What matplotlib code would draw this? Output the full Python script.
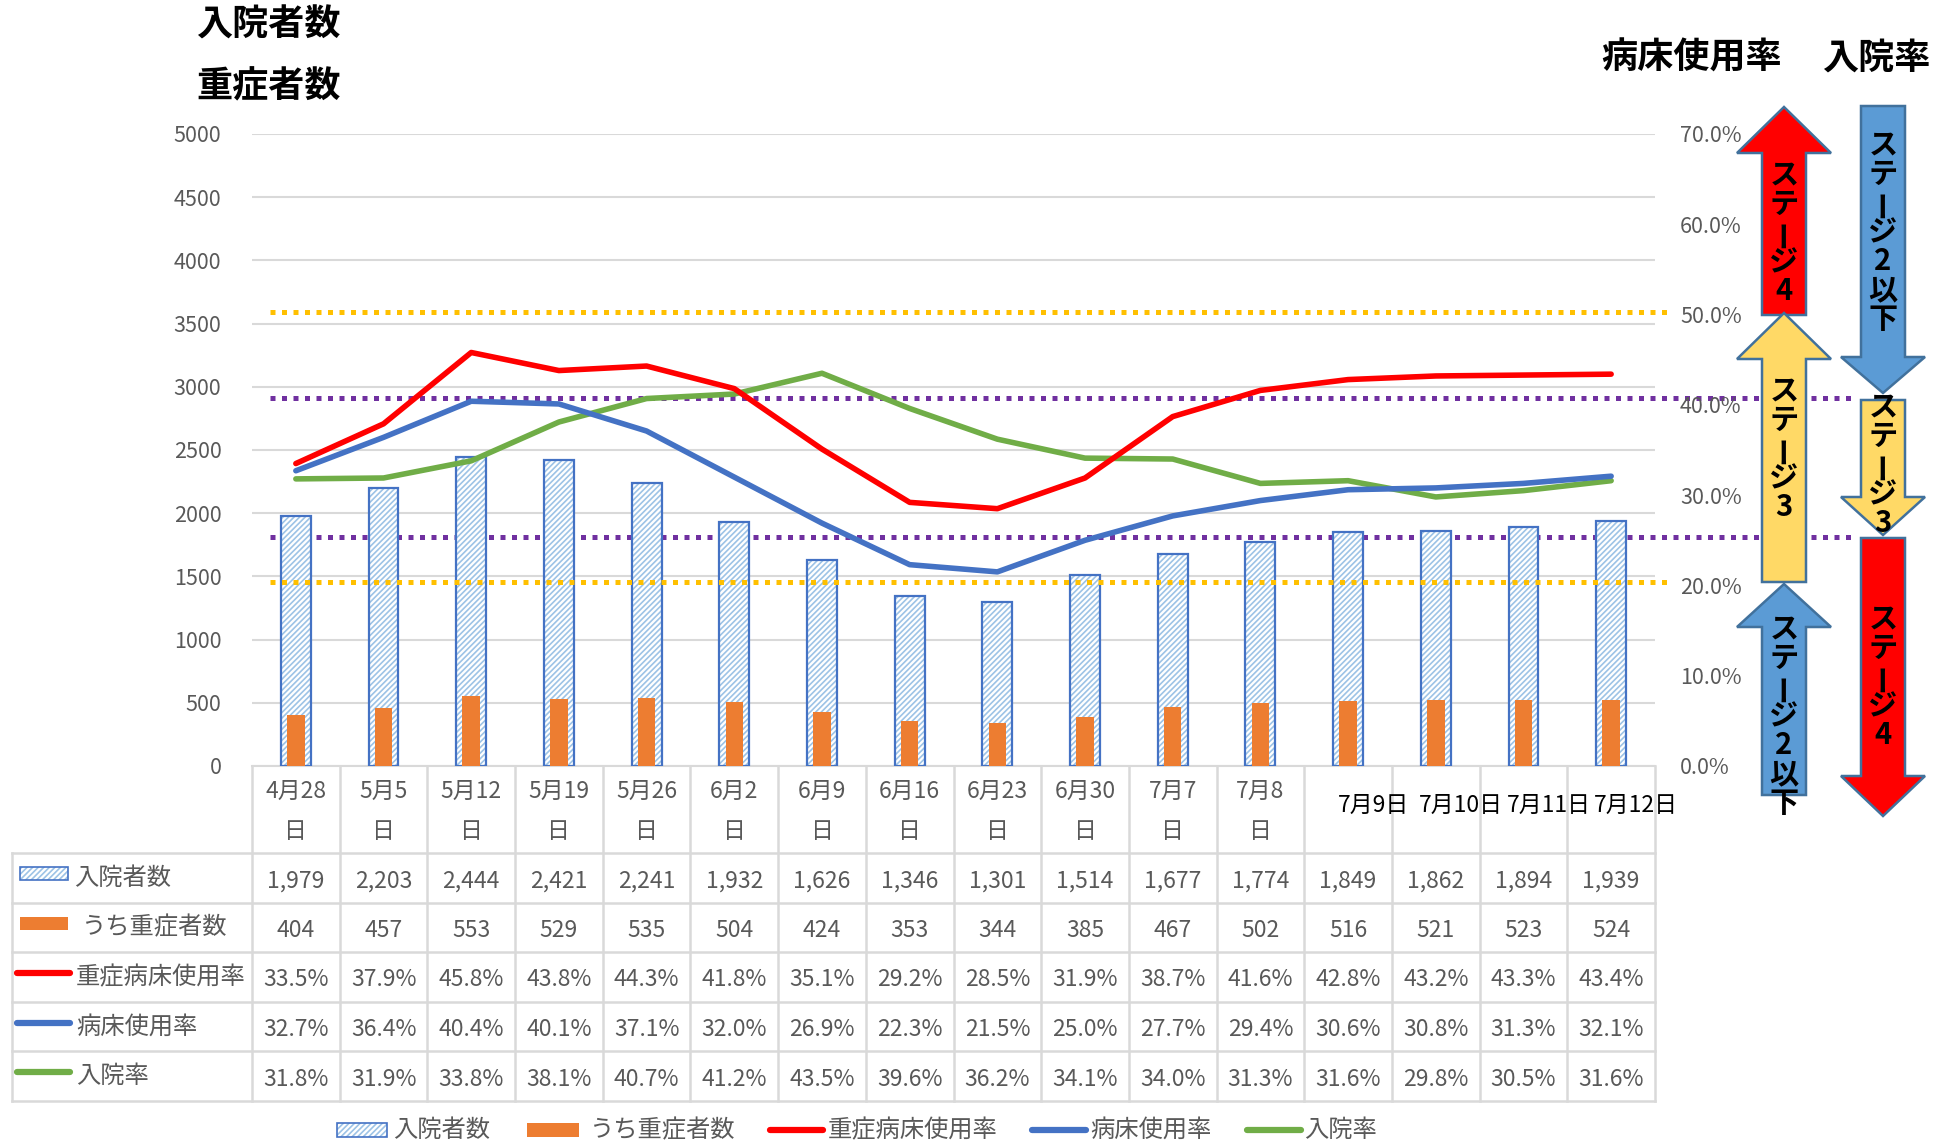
import matplotlib
matplotlib.use("Agg")
import matplotlib.pyplot as plt
from matplotlib.patches import Polygon, Rectangle
from matplotlib.lines import Line2D

plt.rcParams["font.family"] = ["Noto Sans CJK JP", "DejaVu Sans"]
plt.rcParams["hatch.linewidth"] = 1.2

# ---- data ----
dates = ["4月28日", "5月5日", "5月12日", "5月19日", "5月26日", "6月2日", "6月9日",
         "6月16日", "6月23日", "6月30日", "7月7日", "7月8日", "7月9日", "7月10日",
         "7月11日", "7月12日"]
inpatients = [1979, 2203, 2444, 2421, 2241, 1932, 1626, 1346, 1301, 1514, 1677, 1774,
              1849, 1862, 1894, 1939]
severe = [404, 457, 553, 529, 535, 504, 424, 353, 344, 385, 467, 502, 516, 521, 523, 524]
severe_bed_rate = [33.5, 37.9, 45.8, 43.8, 44.3, 41.8, 35.1, 29.2, 28.5, 31.9, 38.7, 41.6,
                   42.8, 43.2, 43.3, 43.4]
bed_rate = [32.7, 36.4, 40.4, 40.1, 37.1, 32.0, 26.9, 22.3, 21.5, 25.0, 27.7, 29.4,
            30.6, 30.8, 31.3, 32.1]
hosp_rate = [31.8, 31.9, 33.8, 38.1, 40.7, 41.2, 43.5, 39.6, 36.2, 34.1, 34.0, 31.3,
             31.6, 29.8, 30.5, 31.6]
orange_levels = [50.3, 20.4]
purple_levels = [40.8, 25.4]

GRAY = "#595959"
GRID = "#D9D9D9"
BLUE = "#4472C4"
HATCH = "#9DC3E6"
ORANGE = "#ED7D31"
RED = "#FF0000"
GREEN = "#70AD47"

W, H = 1944, 1142
fig = plt.figure(figsize=(W / 100, H / 100), dpi=100)

PL, PR, PT, PB = 252, 1655, 134, 766
ax = fig.add_axes([PL / W, 1 - PB / H, (PR - PL) / W, (PB - PT) / H])
ax2 = ax.twinx()
n = len(dates)
x = list(range(n))

ax.set_xlim(-0.5, n - 0.5)
ax.set_ylim(0, 5000)
ax.set_yticks(range(0, 5001, 500))
ax.grid(axis="y", color=GRID, linewidth=1.5)
ax.set_axisbelow(True)
ax.set_xticks([])
for s in ["top", "right", "left"]:
    ax.spines[s].set_visible(False)
    ax2.spines[s].set_visible(False)
ax.spines["bottom"].set_color(GRID)
ax.spines["bottom"].set_linewidth(1.5)
ax2.spines["bottom"].set_visible(False)
ax.tick_params(axis="y", length=0, labelsize=15.5, labelcolor=GRAY, pad=22)

# purple stage lines sit behind the bars
for lv in purple_levels:
    ax.plot([-0.3, 17.8], [lv / 70 * 5000] * 2, color="#7030A0", linewidth=3.6,
            linestyle=(0, (1, 1.3)), dash_capstyle="butt", clip_on=False, zorder=1)

ax.bar(x, inpatients, width=0.34, facecolor="white", edgecolor=HATCH, hatch="//////",
       linewidth=0, zorder=2)
ax.bar(x, inpatients, width=0.34, fill=False, edgecolor=BLUE, linewidth=1.6, zorder=3)
ax.bar(x, severe, width=0.2, color=ORANGE, zorder=4)

ax2.set_ylim(0, 70)
ax2.set_yticks(range(0, 71, 10))
ax2.set_yticklabels([f"{v:.1f}%" for v in range(0, 71, 10)])
ax2.tick_params(axis="y", length=0, labelsize=15.5, labelcolor=GRAY, pad=18)
for lv in orange_levels:
    ax2.plot([-0.3, 15.7], [lv, lv], color="#FFC000", linewidth=3.6,
             linestyle=(0, (1, 1.3)), dash_capstyle="butt", clip_on=False, zorder=1)
ax2.plot(x, hosp_rate, color=GREEN, linewidth=4, solid_capstyle="round", zorder=3)
ax2.plot(x, bed_rate, color=BLUE, linewidth=4, solid_capstyle="round", zorder=4)
ax2.plot(x, severe_bed_rate, color=RED, linewidth=4, solid_capstyle="round", zorder=5)

# ---- overlay in pixel coordinates: table, legend, titles, arrows ----
ov = fig.add_axes([0, 0, 1, 1])
ov.set_xlim(0, W)
ov.set_ylim(H, 0)
ov.axis("off")

col_w = (PR - PL) / n
rows_y = [853, 903, 952, 1002, 1051, 1101]
TL = 12
kw = dict(color=GRID, linewidth=1.8)
for y in rows_y:
    ov.add_line(Line2D([TL, PR], [y, y], **kw))
ov.add_line(Line2D([TL, TL], [rows_y[0], rows_y[-1]], **kw))
for i in range(n + 1):
    xx = PL + i * col_w
    ov.add_line(Line2D([xx, xx], [PB, rows_y[-1]], **kw))

for i, d in enumerate(dates):
    cx = PL + (i + 0.5) * col_w
    if i < 12:
        ov.text(cx, 791, d[:-1], ha="center", va="center", fontsize=16.5, color=GRAY)
        ov.text(cx, 831, "日", ha="center", va="center", fontsize=16.5, color=GRAY)
    else:
        ov.text(cx + 25, 805, d, ha="center", va="center", fontsize=16.5, color="black")

table_rows = [
    [f"{v:,}" for v in inpatients],
    [f"{v:,}" for v in severe],
    [f"{v:.1f}%" for v in severe_bed_rate],
    [f"{v:.1f}%" for v in bed_rate],
    [f"{v:.1f}%" for v in hosp_rate],
]
for r, vals in enumerate(table_rows):
    cy = (rows_y[r] + rows_y[r + 1]) / 2
    for i, s in enumerate(vals):
        ov.text(PL + (i + 0.5) * col_w, cy + 3, s, ha="center", va="center",
                fontsize=16.5, color=GRAY)


def hatch_icon(x0, y0, w, h):
    ov.add_patch(Rectangle((x0, y0), w, h, facecolor="white", edgecolor=HATCH,
                           hatch="//////", linewidth=0))
    ov.add_patch(Rectangle((x0, y0), w, h, fill=False, edgecolor=BLUE, linewidth=1.2))


def bar_icon(x0, y0, w, h):
    ov.add_patch(Rectangle((x0, y0), w, h, color=ORANGE, linewidth=0))


def line_icon(x0, x1, y, c):
    ov.add_line(Line2D([x0, x1], [y, y], color=c, linewidth=4.5, solid_capstyle="round"))


labels = ["入院者数", "うち重症者数", "重症病床使用率", "病床使用率", "入院率"]
cys = [(rows_y[r] + rows_y[r + 1]) / 2 for r in range(5)]
hatch_icon(20, cys[0] - 11, 48, 13)
bar_icon(20, cys[1] - 11, 48, 13)
line_icon(17, 70, cys[2] - 4, RED)
line_icon(17, 70, cys[3] - 4, BLUE)
line_icon(17, 70, cys[4] - 4, GREEN)
lab_x = [74, 82, 76, 76, 76]
for r in range(5):
    ov.text(lab_x[r], cys[r], labels[r], ha="left", va="center", fontsize=17.5, color=GRAY)

# bottom legend
LY = 1130
hatch_icon(337, LY - 7, 50, 14)
ov.text(393, LY, labels[0], ha="left", va="center", fontsize=17.5, color=GRAY)
bar_icon(527, LY - 7, 52, 14)
ov.text(590, LY, labels[1], ha="left", va="center", fontsize=17.5, color=GRAY)
line_icon(770, 823, LY, RED)
ov.text(828, LY, labels[2], ha="left", va="center", fontsize=17.5, color=GRAY)
line_icon(1032, 1086, LY, BLUE)
ov.text(1090, LY, labels[3], ha="left", va="center", fontsize=17.5, color=GRAY)
line_icon(1247, 1301, LY, GREEN)
ov.text(1304, LY, labels[4], ha="left", va="center", fontsize=17.5, color=GRAY)

# titles
tkw = dict(fontsize=26, fontweight="bold", color="black", va="center")
ov.text(196, 25, "入院者数", ha="left", **tkw)
ov.text(196, 87, "重症者数", ha="left", **tkw)
ov.text(1692, 58, "病床使用率", ha="center", **tkw)
ov.text(1876, 58, "入院率", ha="center", **tkw)

# stage arrows
EDGE = "#41719C"


def arrow(cx, start, neck, tip, sw, hw, color):
    verts = [(cx, tip), (cx + hw / 2, neck), (cx + sw / 2, neck), (cx + sw / 2, start),
             (cx - sw / 2, start), (cx - sw / 2, neck), (cx - hw / 2, neck)]
    ov.add_patch(Polygon(verts, closed=True, facecolor=color, edgecolor=EDGE,
                         linewidth=1.8, joinstyle="miter"))


def vtext(cx, cy, s, step=29):
    y0 = cy - step * (len(s) - 1) / 2
    for k, ch in enumerate(s):
        rot = 90 if ch == "ー" else 0
        ov.text(cx, y0 + k * step, ch, ha="center", va="center", fontsize=21,
                fontweight="bold", color="black", rotation=rot)


LX, RX = 1784, 1883
arrow(LX, 315, 153, 107, 44, 94, RED)
arrow(LX, 582, 359, 313, 44, 94, "#FFD966")
arrow(LX, 795, 627, 584, 44, 94, "#5B9BD5")
arrow(RX, 106, 357, 393, 44, 84, "#5B9BD5")
arrow(RX, 400, 497, 535, 44, 84, "#FFD966")
arrow(RX, 538, 776, 816, 44, 84, RED)

vtext(LX, 233, "ステージ4")
vtext(LX, 449, "ステージ3")
vtext(LX, 716, "ステージ2以下")
vtext(RX, 232, "ステージ2以下")
vtext(RX, 465, "ステージ3")
vtext(RX, 677, "ステージ4")

fig.savefig("out.png", dpi=100)
